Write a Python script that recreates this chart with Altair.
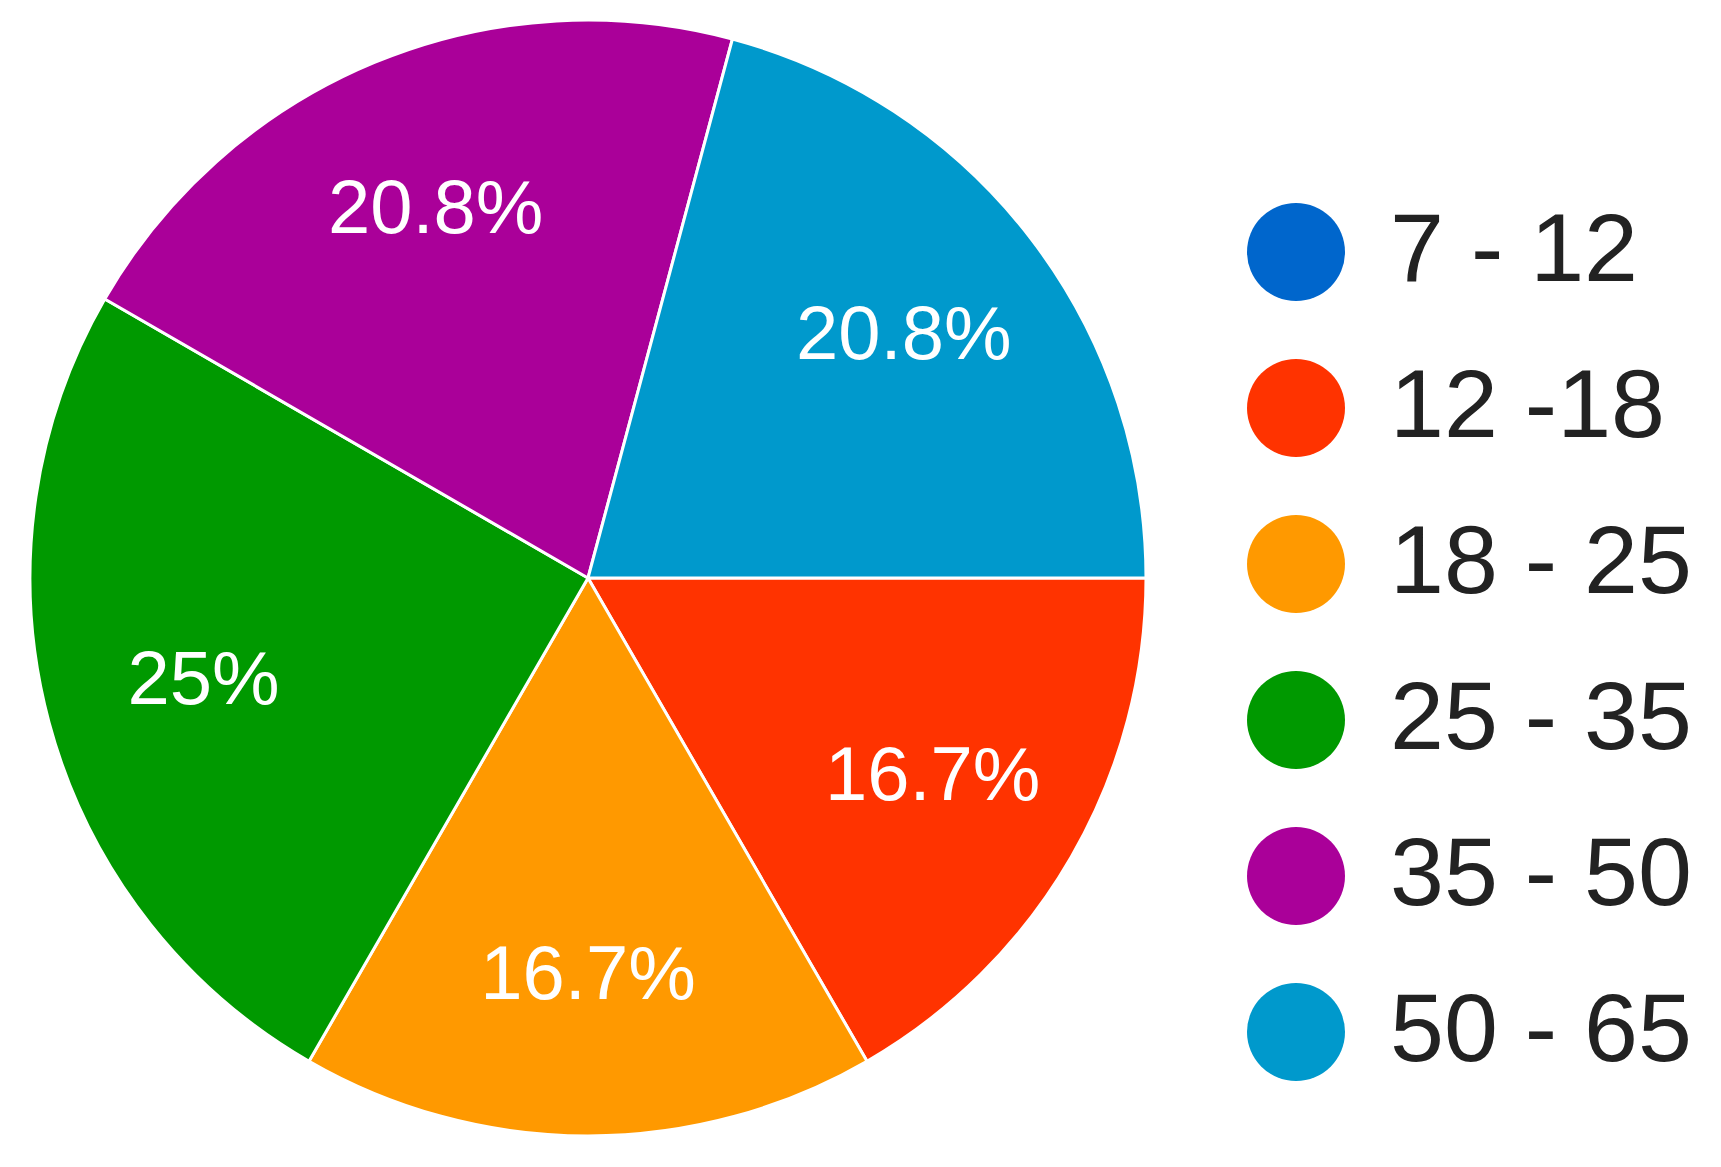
import altair as alt
import pandas as pd
import math

categories = ["7 - 12", "12 -18", "18 - 25", "25 - 35", "35 - 50", "50 - 65"]
counts = [0, 4, 4, 6, 5, 5]
labels = ["", "16.7%", "16.7%", "25%", "20.8%", "20.8%"]
colors = ["#0066CC", "#FF3300", "#FF9900", "#009900", "#AA0099", "#0099CC"]

df = pd.DataFrame({
    "category": categories,
    "count": counts,
    "label": labels,
    "order": list(range(len(categories))),
})

cx, cy = 580, 570
R = 558

theta = alt.Theta("count:Q", stack=True,
                  scale=alt.Scale(range=[math.pi / 2, 5 * math.pi / 2]))
color = alt.Color(
    "category:N",
    scale=alt.Scale(domain=categories, range=colors),
    sort=categories,
    legend=alt.Legend(
        title=None,
        orient="none",
        legendX=1239,
        legendY=195,
        symbolType="circle",
        symbolSize=9604,
        symbolStrokeWidth=0,
        symbolOpacity=1,
        labelFontSize=97,
        labelFont="Liberation Sans",
        labelColor="#222222",
        labelOffset=45,
        rowPadding=58,
        padding=0,
        labelLimit=600,
    ),
)

base = alt.Chart(df)

arcs = base.mark_arc(radius=R, stroke="white", strokeWidth=3).encode(
    theta=theta,
    color=color,
    order=alt.Order("order:Q"),
    x=alt.value(cx),
    y=alt.value(cy),
)

text = base.transform_filter("datum.count > 0").mark_text(
    radius=398, color="white", fontSize=76, font="Liberation Sans"
).encode(
    theta=theta,
    text="label:N",
    order=alt.Order("order:Q"),
    x=alt.value(cx),
    y=alt.value(cy),
)

chart = alt.layer(arcs, text).properties(
    width=1705, height=1151, padding=0
).configure_view(stroke=None)

chart.save("out.html", embed_options={"renderer": "svg", "actions": False})
